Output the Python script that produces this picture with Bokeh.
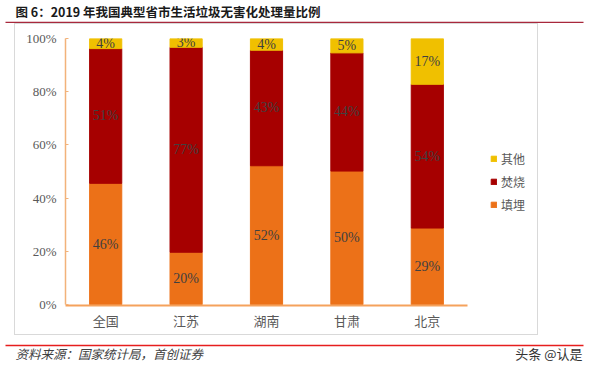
from bokeh.plotting import figure
from bokeh.layouts import column, row
from bokeh.models import (ColumnDataSource, Legend, LegendItem, Spacer,
                          PrintfTickFormatter, FixedTicker, Range1d)
from bokeh.core.properties import value
from bokeh.embed import file_html
from bokeh.resources import INLINE

# ---- data ----
categories = ["全国", "江苏", "湖南", "甘肃", "北京"]
landfill = [45.6, 19.7, 52.2, 50.2, 28.8]      # 填埋
incineration = [50.6, 77.0, 43.4, 44.4, 54.0]  # 焚烧
other = [3.8, 3.3, 4.4, 5.4, 17.2]             # 其他
y_ticks = [0, 20, 40, 60, 80, 100]
series_names = ["填埋", "焚烧", "其他"]

title_text = "图 6：2019 年我国典型省市生活垃圾无害化处理量比例"
source_text = "资料来源：国家统计局，首创证券"
mark_text = "头条 @认是"

C_ORANGE = "#EC7118"
C_RED = "#A60000"
C_YELLOW = "#F0C000"
CJK = "Noto Sans CJK SC"

W = 584
n = len(categories)
xpos = [i + 0.5 for i in range(n)]

# ---------- header strip (title + red rule) ----------
T = figure(width=W, height=23, x_range=Range1d(0, W), y_range=Range1d(23, 0),
           output_backend="svg", toolbar_location=None, min_border=0,
           x_axis_type=None, y_axis_type=None)
T.outline_line_color = None
T.grid.visible = False
T.text(x=[15], y=[11], text=[title_text], text_font=value(CJK),
       text_font_size="12.5px", text_font_style="bold", text_color="#1a1a1a",
       text_baseline="middle")
T.segment(x0=[5], y0=[22], x1=[583], y1=[22], line_color="#A8283C", line_width=1.5)

# ---------- main chart ----------
src = ColumnDataSource(dict(x=xpos, landfill=landfill,
                            incin=incineration, other=other))

# frame spans to the right edge of the grey box; 5 categories take 402 of 473 px
M = figure(x_range=Range1d(0, n * 473 / 402), y_range=Range1d(-0.3, 100),
           width=524, height=312, output_backend="svg", toolbar_location=None,
           min_border_left=51, min_border_right=0, min_border_top=15,
           min_border_bottom=30)
M.outline_line_color = None
M.grid.visible = False
M.background_fill_color = None
M.border_fill_color = None
M.styles = {"outline": "1px solid #D9D9D9", "outline-offset": "-1px"}

rs = M.vbar_stack(["landfill", "incin", "other"], x="x", width=0.4,
                  color=[C_ORANGE, C_RED, C_YELLOW], source=src)

lx, ly, lt = [], [], []
for i in range(n):
    base = 0.0
    for v in (landfill[i], incineration[i], other[i]):
        lx.append(xpos[i])
        ly.append(base + v / 2)
        lt.append(f"{round(v)}%")
        base += v
lab_src = ColumnDataSource(dict(x=lx, y=ly, t=lt))
M.text(x="x", y="y", text="t", source=lab_src, text_align="center",
       text_baseline="middle", text_font=value("Liberation Serif"),
       text_font_size="14px", text_color="#404040")

M.yaxis.ticker = FixedTicker(ticks=y_ticks)
M.yaxis.formatter = PrintfTickFormatter(format="%d%%")
M.yaxis.bounds = (0, 100)
M.yaxis.axis_line_color = "#F2B27A"
M.yaxis.axis_line_width = 1.5
M.yaxis.major_tick_line_color = "#F2B27A"
M.yaxis.major_tick_in = 3
M.yaxis.major_tick_out = 0
M.yaxis.minor_tick_line_color = None
M.yaxis.major_label_text_font = "Liberation Serif"
M.yaxis.major_label_text_font_size = "13px"
M.yaxis.major_label_text_color = "#595959"
M.yaxis.major_label_standoff = 9

M.xaxis.ticker = FixedTicker(ticks=xpos)
M.xaxis.major_label_overrides = {x: c for x, c in zip(xpos, categories)}
M.xaxis.bounds = (0, n)
M.xaxis.axis_line_color = "#F5A25C"
M.xaxis.axis_line_width = 2
M.xaxis.major_tick_line_color = None
M.xaxis.major_tick_in = 0
M.xaxis.major_tick_out = 0
M.xaxis.minor_tick_line_color = None
M.xaxis.minor_tick_in = 0
M.xaxis.minor_tick_out = 0
M.xaxis.major_label_text_font = CJK
M.xaxis.major_label_text_font_size = "13px"
M.xaxis.major_label_text_color = "#595959"
M.xaxis.major_label_standoff = 5

legend = Legend(items=[LegendItem(label=series_names[2], renderers=[rs[2]]),
                       LegendItem(label=series_names[1], renderers=[rs[1]]),
                       LegendItem(label=series_names[0], renderers=[rs[0]])],
                location=(425, 91), border_line_color=None,
                background_fill_alpha=0, padding=0, margin=0, spacing=3,
                glyph_width=7, glyph_height=7, label_standoff=4,
                label_height=20, label_text_font=CJK,
                label_text_font_size="12px", label_text_color="#595959")
M.add_layout(legend)

# ---------- footer strip ----------
B = figure(width=W, height=27, x_range=Range1d(0, W), y_range=Range1d(27, 0),
           output_backend="svg", toolbar_location=None, min_border=0,
           x_axis_type=None, y_axis_type=None)
B.outline_line_color = None
B.grid.visible = False
B.segment(x0=[5], y0=[10], x1=[583], y1=[10], line_color="#E61E1E", line_width=1.5)
B.text(x=[15], y=[18], text=[source_text], text_font=value(CJK),
       text_font_size="12.5px", text_font_style="italic", text_color="#404040",
       text_baseline="middle")
B.text(x=[582], y=[18], text=[mark_text], text_font=value(CJK),
       text_font_size="13px", text_color="#333333", text_align="right",
       text_baseline="middle")

layout = column(T, row(Spacer(width=14, height=312), M), B, spacing=0)

open("out.html", "w").write(file_html(layout, INLINE))
